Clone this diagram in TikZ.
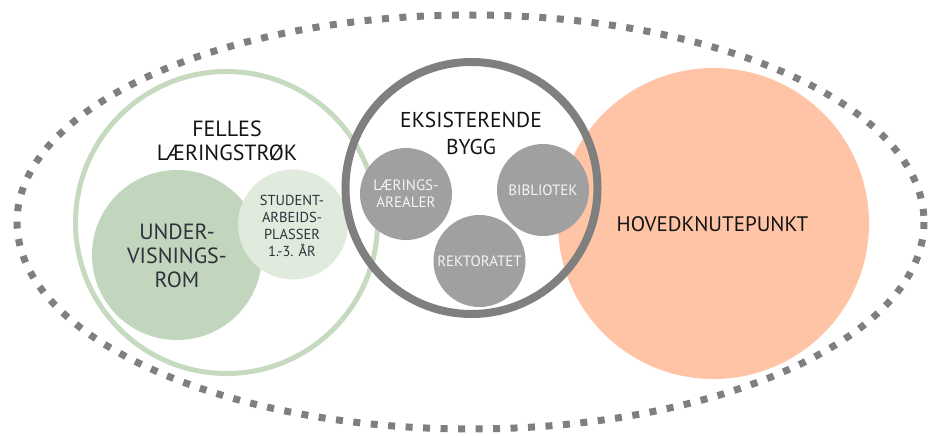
\documentclass[tikz,border=0pt]{standalone}
\usepackage{fontspec}
\setmainfont{PT Sans}
\usetikzlibrary{shapes.geometric}
\definecolor{dashgray}{RGB}{127,127,127}
\definecolor{ringgray}{RGB}{127,127,127}
\definecolor{bubblegray}{RGB}{160,160,160}
\definecolor{greenring}{RGB}{197,218,191}
\definecolor{greenfill}{RGB}{194,214,190}
\definecolor{greenlight}{RGB}{224,235,221}
\definecolor{peach}{RGB}{255,196,166}
\definecolor{darktext}{RGB}{20,20,20}
\definecolor{slatetext}{RGB}{45,50,60}
\definecolor{whitetext}{RGB}{245,245,245}
\tikzset{
  bigtext/.style={align=center, text=darktext, inner sep=0pt, font=\fontsize{22}{24}\selectfont},
  smalltext/.style={align=center, inner sep=0pt, font=\fontsize{14.5}{17}\selectfont},
  disc/.style={circle, inner sep=0pt, draw=none},
  bubble/.style={disc, fill=bubblegray, minimum size=92pt, text=whitetext, font=\fontsize{15}{17}\selectfont, align=center},
}
\begin{document}
\begin{tikzpicture}[x=1pt, y=-1pt]
\useasboundingbox (0,0) rectangle (932,436);
% outer dotted ellipse
\draw[dashgray, line width=7pt, dash pattern=on 7pt off 10.5pt] (470.5,222) ellipse [x radius=453.5, y radius=207];
% hovedknutepunkt
\node[disc, fill=peach, minimum size=311pt] (hoved) at (713.5,223.5) {};
% felles laeringsstrok ring
\node[disc, draw=greenring, line width=5pt, minimum size=302pt] (felles) at (226.5,222.5) {};
\node[disc, fill=greenfill, minimum size=170pt] (under) at (177,255) {};
\node[disc, fill=greenlight, minimum size=110pt] (student) at (293,224.5) {};
% eksisterende bygg ring
\node[disc, draw=ringgray, line width=8pt, minimum size=252pt] (eksist) at (471.5,188) {};
\node[bubble] (laer) at (406,194) {LÆRINGS-\\AREALER};
\node[bubble] (bibl) at (543,190) {BIBLIOTEK};
\node[bubble] (rekt) at (479.5,261) {REKTORATET};
% texts
\node[bigtext] (fellestxt) at (227,141) {FELLES\\LÆRINGSTRØK};
\node[bigtext, text=slatetext] (undertxt) at (177,256) {UNDER-\\VISNINGS-\\ROM};
\node[smalltext, text=slatetext] (studenttxt) at (292,225.5) {STUDENT-\\ARBEIDS-\\PLASSER\\1.-3. ÅR};
\node[bigtext, font=\fontsize{21.5}{27}\selectfont] (eksisttxt) at (471,133.5) {EKSISTERENDE\\BYGG};
\node[bigtext, font=\fontsize{21}{24}\selectfont] (hovedtxt) at (712.5,224) {HOVEDKNUTEPUNKT};
\end{tikzpicture}
\end{document}
